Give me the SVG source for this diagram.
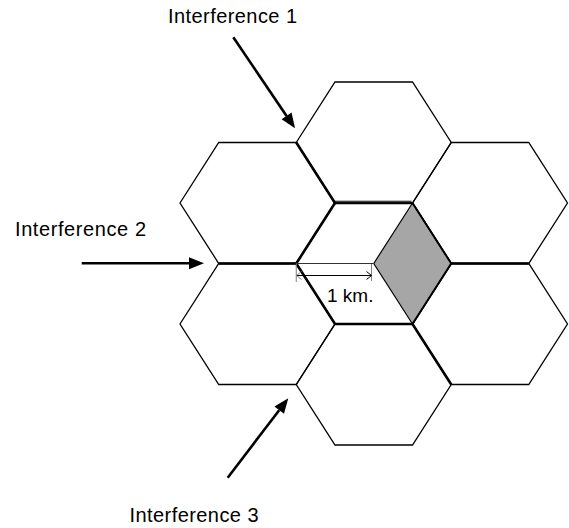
<svg xmlns="http://www.w3.org/2000/svg" width="569" height="528" viewBox="0 0 569 528">
  <style>
    .cell { fill: none; stroke: #000; stroke-width: 1.3; stroke-linejoin: miter; }
    .shared { fill: none; stroke: #000; stroke-width: 2.6; stroke-linecap: butt; }
    .shared-mid { fill: none; stroke: #000; stroke-width: 2; }
    .thin { fill: none; stroke: #000; stroke-width: 1.1; }
    .ext { fill: none; stroke: #808080; stroke-width: 1; }
    .dim { fill: none; stroke: #000; stroke-width: 1; }
    .feed { fill: none; stroke: #000; stroke-width: 2.6; }
    .label { font-family: "Liberation Sans", Arial, sans-serif; font-size: 19px; fill: #000; }
    .source { font-size: 20px; }
  </style>
  <defs>
    <!-- flat-topped cell, centred on the origin -->
    <polygon id="hex" points="-77.5,0 -38.75,-60.5 38.75,-60.5 77.5,0 38.75,60.5 -38.75,60.5"/>
    <marker id="head" markerUnits="userSpaceOnUse" markerWidth="16" markerHeight="13" refX="0" refY="6" orient="auto" overflow="visible">
      <path d="M0,0 L15,6 L0,12 z" fill="#000"/>
    </marker>
  </defs>

  <!-- seven-cell cluster -->
  <g id="cell-center" class="cell"><use href="#hex" x="373.75" y="263.5"/></g>
  <g id="cell-top" class="cell"><use href="#hex" x="373.75" y="142.5"/></g>
  <g id="cell-bottom" class="cell"><use href="#hex" x="373.75" y="384.5"/></g>
  <g id="cell-upper-left" class="cell"><use href="#hex" x="257.5" y="203"/></g>
  <g id="cell-lower-left" class="cell"><use href="#hex" x="257.5" y="324"/></g>
  <g id="cell-upper-right" class="cell"><use href="#hex" x="490" y="203"/></g>
  <g id="cell-lower-right" class="cell"><use href="#hex" x="490" y="324"/></g>

  <!-- shaded sector of the centre cell -->
  <g id="sector">
    <polygon points="373.75,263.5 412.5,203 451.25,263.5 412.5,324" fill="#a6a6a6" stroke="#000" stroke-width="1.2"/>
  </g>

  <!-- boundaries drawn twice by neighbouring cells -->
  <g id="shared-edges">
    <path class="shared" d="M296.25,142.5 L335,203 L296.25,263.5 L335,324 L412.5,324 L451.25,384.5"/>
    <path class="shared" d="M218.75,263.5 L296.25,263.5"/>
    <path class="shared" d="M451.25,263.5 L528.75,263.5"/>
    <path class="shared-mid" d="M412.5,203 L451.25,263.5 L412.5,324"/>
    <path class="thin" d="M335,201.3 L411.5,201.3"/>
    <path class="thin" d="M335,203.6 L412.5,203.6"/>
  </g>

  <!-- 1 km dimension -->
  <g id="dimension">
    <path d="M296.25,263.5 L373.75,263.5" fill="none" stroke="#333" stroke-width="1"/>
    <path class="ext" d="M296.25,263.5 L296.25,282 M371.5,264 L371.5,281"/>
    <path class="dim" d="M296.5,275.5 L371.5,275.5"/>
    <path class="ext" d="M301.5,271.5 L296.5,275.5 L301.5,279.5"/>
    <path class="dim" d="M366.5,271.5 L371.5,275.5 L366.5,279.5"/>
    <text class="label" x="327" y="301.5">1 km.</text>
  </g>

  <!-- interference sources -->
  <g id="connectors">
    <line class="feed" x1="233.3" y1="37.3" x2="286.6" y2="115.9" marker-end="url(#head)"/>
    <line class="feed" x1="81.7" y1="263.3" x2="189" y2="263.3" marker-end="url(#head)"/>
    <line class="feed" x1="227.7" y1="477.7" x2="279.2" y2="410.2" marker-end="url(#head)"/>
  </g>

  <g id="label-interference-1"><text class="label source" x="168" y="23" textLength="129" lengthAdjust="spacing">Interference 1</text></g>
  <g id="label-interference-2"><text class="label source" x="15" y="236" textLength="131" lengthAdjust="spacing">Interference 2</text></g>
  <g id="label-interference-3"><text class="label source" x="129.5" y="521.5" textLength="129" lengthAdjust="spacing">Interference 3</text></g>
</svg>
